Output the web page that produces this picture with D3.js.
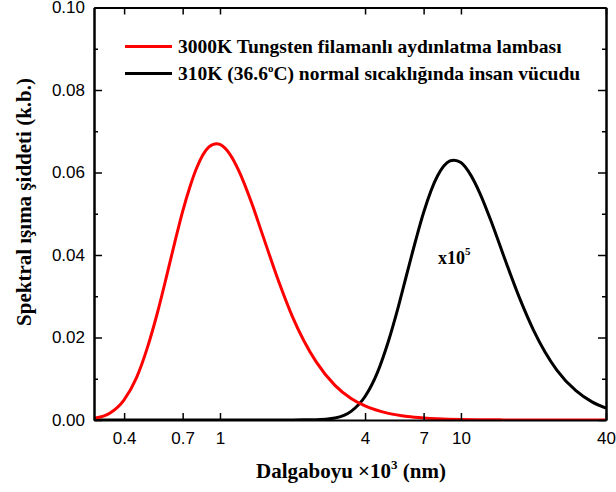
<!DOCTYPE html>
<html>
<head>
<meta charset="utf-8">
<script src="https://cdn.jsdelivr.net/npm/d3@7"></script>
<style>
  html, body { margin: 0; padding: 0; background: #fff; }
  svg { display: block; }
</style>
</head>
<body>
<script>
// ---- data ----
const xTickValues = [0.4, 0.7, 1, 4, 7, 10, 40];
const yTickValues = [0, 0.02, 0.04, 0.06, 0.08, 0.10];
const yMinorValues = [0.01, 0.03, 0.05, 0.07, 0.09];

const redWavelength = [0.3, 0.35, 0.4, 0.45, 0.5, 0.55, 0.6, 0.65, 0.7, 0.75, 0.8, 0.9, 0.966, 1.0, 1.1, 1.2, 1.35, 1.5, 1.75, 2, 2.5, 3, 3.5, 4, 5, 6, 7, 8, 10, 15, 20, 30, 40];
const redIntensity  = [0.0004, 0.0017, 0.0049, 0.0102, 0.0176, 0.0260, 0.0348, 0.0432, 0.0506, 0.0565, 0.0611, 0.0662, 0.0670, 0.0668, 0.0644, 0.0603, 0.0528, 0.0450, 0.0337, 0.0250, 0.0142, 0.0084, 0.0052, 0.0034, 0.0016, 0.00084, 0.00049, 0.0003, 0.00013, 0.00003, 0.00001, 0, 0];

const blackWavelength = [0.3, 1, 1.5, 2, 2.5, 3, 3.5, 4, 4.5, 5, 5.5, 6, 6.5, 7, 8, 9, 9.35, 10, 11, 12, 13.5, 15, 17.5, 20, 25, 30, 35, 40];
const blackIntensity  = [0, 0, 0, 0.00002, 0.00006, 0.0005, 0.0021, 0.0057, 0.0115, 0.0191, 0.0275, 0.0360, 0.0437, 0.0503, 0.0592, 0.0628, 0.0630, 0.0624, 0.0593, 0.0549, 0.0474, 0.0400, 0.0296, 0.0218, 0.0121, 0.0071, 0.0044, 0.0029];

const legendLabels = ["3000K Tungsten filamanlı aydınlatma lambası", "310K (36.6", "C) normal sıcaklığında insan vücudu"];

// ---- layout ----
const W = 616, H = 492;
const L = 94, R = 606, T = 7.5, B = 420;
const serif = "'Liberation Serif', 'Times New Roman', serif";
const sans = "'Liberation Sans', Arial, sans-serif";

const svg = d3.select("body").append("svg").attr("width", W).attr("height", H);

const x = d3.scaleLog().domain([0.3, 40]).range([L, R]);
const y = d3.scaleLinear().domain([0, 0.10]).range([B, T]);

const fmtX = d => String(d);
const fmtY = d3.format(".2f");

function styleAxis(g) {
  g.selectAll(".domain").attr("stroke", "#000").attr("stroke-width", 2);
  g.selectAll(".tick line").attr("stroke", "#000").attr("stroke-width", 1.5);
}

// curves (drawn first so the frame stays on top)
const line = d3.line().x(d => x(d[0])).y(d => y(d[1])).curve(d3.curveMonotoneX);
const redData = redWavelength.map((w, i) => [w, redIntensity[i]]);
const blackData = blackWavelength.map((w, i) => [w, blackIntensity[i]]);

svg.append("clipPath").attr("id", "clip").append("rect")
  .attr("x", L).attr("y", T).attr("width", R - L).attr("height", B - T);

svg.append("path").datum(blackData).attr("d", line).attr("fill", "none")
  .attr("stroke", "#000").attr("stroke-width", 3).attr("clip-path", "url(#clip)");
svg.append("path").datum(redData).attr("d", line).attr("fill", "none")
  .attr("stroke", "#ff0000").attr("stroke-width", 3).attr("clip-path", "url(#clip)");

// axes
const gx = svg.append("g").attr("transform", `translate(0,${B})`)
  .call(d3.axisBottom(x).tickValues(xTickValues).tickFormat(fmtX).tickSize(-7).tickSizeOuter(0).tickPadding(12));
gx.call(styleAxis);
gx.selectAll("text").attr("font-family", sans).attr("font-size", 17).attr("fill", "#000");

const gxt = svg.append("g").attr("transform", `translate(0,${T})`)
  .call(d3.axisTop(x).tickValues(xTickValues).tickFormat("").tickSize(-7).tickSizeOuter(0));
gxt.call(styleAxis);

const gy = svg.append("g").attr("transform", `translate(${L},0)`)
  .call(d3.axisLeft(y).tickValues(yTickValues).tickFormat(fmtY).tickSize(-8).tickSizeOuter(0).tickPadding(9));
gy.call(styleAxis);
gy.selectAll("text").attr("font-family", sans).attr("font-size", 17).attr("fill", "#000");

const gym = svg.append("g").attr("transform", `translate(${L},0)`)
  .call(d3.axisLeft(y).tickValues(yMinorValues).tickFormat("").tickSize(-4).tickSizeOuter(0));
gym.call(styleAxis);

const gyr = svg.append("g").attr("transform", `translate(${R},0)`)
  .call(d3.axisRight(y).tickValues(yTickValues).tickFormat("").tickSize(-8).tickSizeOuter(0));
gyr.call(styleAxis);
const gyrm = svg.append("g").attr("transform", `translate(${R},0)`)
  .call(d3.axisRight(y).tickValues(yMinorValues).tickFormat("").tickSize(-4).tickSizeOuter(0));
gyrm.call(styleAxis);

// legend
const leg = svg.append("g").attr("font-family", serif).attr("font-weight", "bold").attr("font-size", 19.5);
leg.append("line").attr("x1", 125).attr("x2", 172).attr("y1", 46.5).attr("y2", 46.5).attr("stroke", "#ff0000").attr("stroke-width", 3);
leg.append("line").attr("x1", 125).attr("x2", 172).attr("y1", 73.5).attr("y2", 73.5).attr("stroke", "#000").attr("stroke-width", 3);
leg.append("text").attr("x", 178).attr("y", 53).text(legendLabels[0]);
const t2 = leg.append("text").attr("x", 178).attr("y", 80);
t2.append("tspan").text(legendLabels[1]);
t2.append("tspan").attr("dy", -8).attr("font-size", 11).text("o");
t2.append("tspan").attr("dy", 8).text(legendLabels[2]);

// x10^5 annotation
const ann = svg.append("text").attr("x", 438).attr("y", 264)
  .attr("font-family", serif).attr("font-weight", "bold").attr("font-size", 18);
ann.append("tspan").text("x10");
ann.append("tspan").attr("dy", -9).attr("font-size", 11).text("5");

// axis titles
const xt = svg.append("text").attr("x", 351).attr("y", 478).attr("text-anchor", "middle")
  .attr("font-family", serif).attr("font-weight", "bold").attr("font-size", 21);
xt.append("tspan").text("Dalgaboyu \u00d710");
xt.append("tspan").attr("dy", -9).attr("font-size", 13).text("3");
xt.append("tspan").attr("dy", 9).text(" (nm)");

svg.append("text").attr("transform", "translate(31,202) rotate(-90)").attr("text-anchor", "middle")
  .attr("font-family", serif).attr("font-weight", "bold").attr("font-size", 21)
  .text("Spektral ışıma şiddeti (k.b.)");
</script>
</body>
</html>
